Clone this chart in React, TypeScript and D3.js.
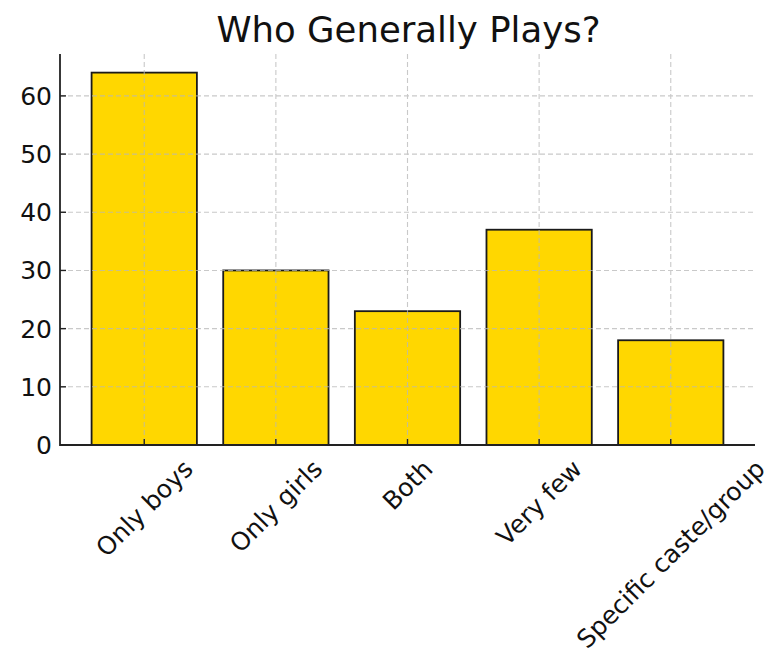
import React, { useEffect, useRef } from "react";
import * as d3 from "d3";

const categories = ["Only boys", "Only girls", "Both", "Very few", "Specific caste/group"];
const values = [64, 30, 23, 37, 18];
const yTicks = [0, 10, 20, 30, 40, 50, 60];
const title = "Who Generally Plays?";

const W = 773;
const H = 657;
const M = { left: 60, right: 755, top: 54, bottom: 445 };
const FONT = "'DejaVu Sans', sans-serif";
const TICK_FS = 25;

export default function App() {
  const ref = useRef<SVGSVGElement>(null);

  useEffect(() => {
    const svg = d3.select(ref.current);
    svg.selectAll("*").remove();

    const x = d3.scaleLinear().domain([-0.64, 4.64]).range([M.left, M.right]);
    const y = d3.scaleLinear().domain([0, 67.2]).range([M.bottom, M.top]);
    const bw = x(0.8) - x(0);

    svg.append("rect").attr("width", W).attr("height", H).attr("fill", "#ffffff");

    // bars
    svg
      .append("g")
      .selectAll("rect")
      .data(values)
      .join("rect")
      .attr("x", (_, i) => x(i) - bw / 2)
      .attr("y", (d) => y(d))
      .attr("width", bw)
      .attr("height", (d) => y(0) - y(d))
      .attr("fill", "#FFD700")
      .attr("stroke", "#1a1a1a")
      .attr("stroke-width", 1.8);

    // grid (above bars)
    const grid = svg.append("g").attr("stroke", "#b8b8b8").attr("stroke-width", 1.1).attr("stroke-dasharray", "5,3").attr("opacity", 0.75);
    grid
      .selectAll("line.h")
      .data(yTicks)
      .join("line")
      .attr("class", "h")
      .attr("x1", M.left)
      .attr("x2", M.right)
      .attr("y1", (d) => y(d))
      .attr("y2", (d) => y(d));
    grid
      .selectAll("line.v")
      .data(categories)
      .join("line")
      .attr("class", "v")
      .attr("x1", (_, i) => x(i))
      .attr("x2", (_, i) => x(i))
      .attr("y1", M.top)
      .attr("y2", M.bottom);

    // spines
    svg.append("line").attr("x1", M.left).attr("x2", M.left).attr("y1", M.top).attr("y2", M.bottom + 0.9).attr("stroke", "#222").attr("stroke-width", 1.8);
    svg.append("line").attr("x1", M.left).attr("x2", M.right).attr("y1", M.bottom).attr("y2", M.bottom).attr("stroke", "#222").attr("stroke-width", 1.8);

    // y ticks
    const yt = svg.append("g");
    yTicks.forEach((t) => {
      yt.append("line").attr("x1", M.left).attr("x2", M.left + 6).attr("y1", y(t)).attr("y2", y(t)).attr("stroke", "#222").attr("stroke-width", 1.4);
      yt.append("text")
        .attr("x", M.left - 8)
        .attr("y", y(t))
        .attr("dy", "0.36em")
        .attr("text-anchor", "end")
        .attr("font-family", FONT)
        .attr("font-size", TICK_FS)
        .attr("fill", "#111")
        .text(String(t));
    });

    // x ticks and rotated labels
    const xt = svg.append("g");
    categories.forEach((c, i) => {
      xt.append("line").attr("x1", x(i)).attr("x2", x(i)).attr("y1", M.bottom).attr("y2", M.bottom - 6).attr("stroke", "#222").attr("stroke-width", 1.4);
      const t = xt
        .append("text")
        .attr("text-anchor", "middle")
        .attr("dy", "0.35em")
        .attr("font-family", FONT)
        .attr("font-size", TICK_FS)
        .attr("fill", "#111")
        .text(c);
      const w = (t.node() as SVGTextElement).getComputedTextLength();
      const h = TICK_FS * 1.16;
      const bh = (w + h) * Math.SQRT1_2;
      const cy = M.bottom + 9 + bh / 2;
      t.attr("transform", `translate(${x(i)},${cy}) rotate(-45)`);
    });

    // title
    svg
      .append("text")
      .attr("x", (M.left + M.right) / 2 + 1)
      .attr("y", 42)
      .attr("text-anchor", "middle")
      .attr("font-family", FONT)
      .attr("font-size", 35.5)
      .attr("fill", "#111")
      .text(title);
  }, []);

  return <svg ref={ref} width={W} height={H} style={{ position: "absolute", left: 0, top: 0 }} />;
}
